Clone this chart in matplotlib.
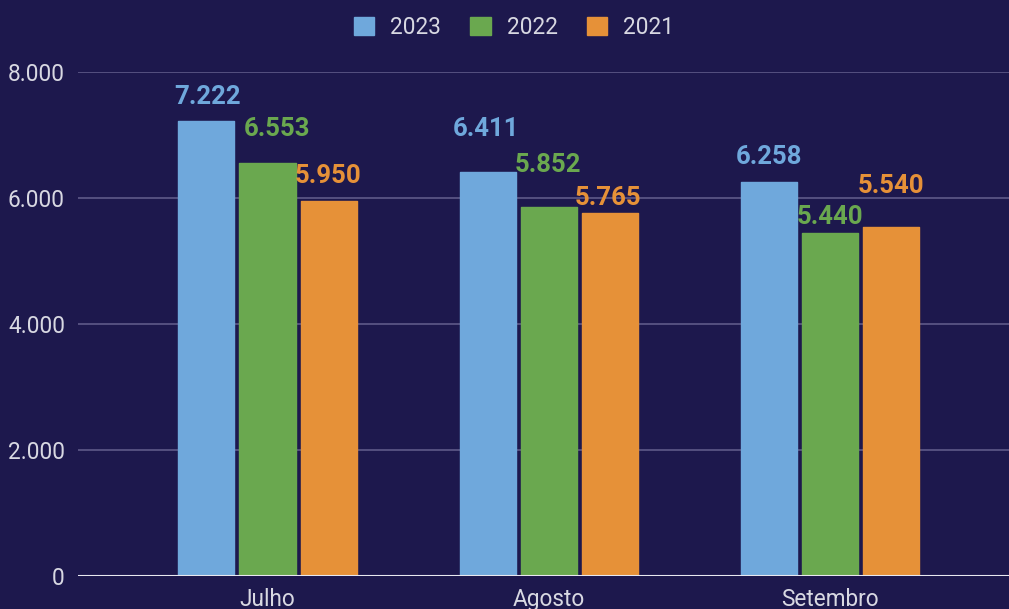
import matplotlib
matplotlib.use("Agg")
import matplotlib.pyplot as plt
import numpy as np
from matplotlib.ticker import FuncFormatter, FixedLocator

months = ["Julho", "Agosto", "Setembro"]
series_names = ["2023", "2022", "2021"]
values_2023 = [7222, 6411, 6258]
values_2022 = [6553, 5852, 5440]
values_2021 = [5950, 5765, 5540]
y_ticks = [0, 2000, 4000, 6000, 8000]

colors = ["#6fa8dc", "#6aa84f", "#e69138"]
bg = "#1d184d"
text_col = "#d8d8e2"
grid_col = "#5e5a88"

# label placement (pixels above bar top, pixel x shift) mimicking the original layout
label_dy = [[24, 43, 25], [34, 42, 16], [25, 15, 41]]
label_dx = [[1, -2, 0], [9, -1, 0], [0, -2, 0]]

plt.rcParams['font.family'] = ['Roboto', 'DejaVu Sans']

fig = plt.figure(figsize=(10.09, 6.09), dpi=100, facecolor=bg)
ax = fig.add_axes([78/1009, 33/609, 1 - 78/1009, (576-72)/609])
ax.set_facecolor(bg)

x = np.arange(len(months))
step = 61/281
width = 56/281
all_vals = [values_2023, values_2022, values_2021]
for i, (name, vals) in enumerate(zip(series_names, all_vals)):
    pos = x + (i - 1) * step
    ax.bar(pos, vals, width=width, color=colors[i], edgecolor=colors[i],
           linewidth=1.0, joinstyle='round', label=name, zorder=3)
    for j, (px, v) in enumerate(zip(pos, vals)):
        lbl = f"{v:,}".replace(",", ".")
        ax.annotate(lbl, xy=(px, v), xytext=(label_dx[i][j]*0.72, label_dy[i][j]*0.72),
                    textcoords="offset points", ha="center", va="center",
                    color=colors[i], fontsize=18.5, fontweight="bold", zorder=4)

ax.set_xlim(-0.674, 2.637)
ax.set_ylim(0, 8000)
ax.yaxis.set_major_locator(FixedLocator(y_ticks))
ax.yaxis.set_major_formatter(FuncFormatter(lambda v, p: f"{int(v):,}".replace(",", ".")))
ax.set_xticks(x)
ax.set_xticklabels(months)
ax.tick_params(axis="both", length=0, colors=text_col, labelsize=16.3)
ax.tick_params(axis="y", pad=9.4)
ax.tick_params(axis="x", pad=8.5)
for s in ax.spines.values():
    s.set_visible(False)
ax.grid(axis="y", color=grid_col, linewidth=1.2, zorder=0)
ax.axhline(0, color="#e8e8f0", linewidth=1.5, zorder=5)

leg = fig.legend(loc="upper center", bbox_to_anchor=(514/1009, 1.0), ncol=3, frameon=False,
                 fontsize=16.3, labelcolor=text_col, handlelength=0.9, handleheight=0.9,
                 columnspacing=1.3, handletextpad=0.7, borderaxespad=0.3)

fig.savefig("out.png", dpi=100, facecolor=bg)
